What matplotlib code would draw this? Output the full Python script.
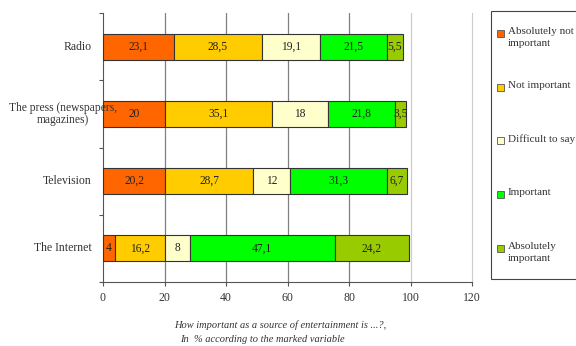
import matplotlib
matplotlib.use("Agg")
import matplotlib.pyplot as plt
from matplotlib.patches import Rectangle
from matplotlib.transforms import ScaledTranslation

plt.rcParams['font.family'] = ['Liberation Serif', 'DejaVu Serif']

media = ["Radio", "The press (newspapers,\nmagazines)", "Television", "The Internet"]
answers = ["Absolutely not\nimportant", "Not important", "Difficult to say",
           "Important", "Absolutely\nimportant"]
abs_not_important = [23.1, 20.0, 20.2, 4.0]
not_important = [28.5, 35.1, 28.7, 16.2]
difficult = [19.1, 18.0, 12.0, 8.0]
important = [21.5, 21.8, 31.3, 47.1]
abs_important = [5.5, 3.5, 6.7, 24.2]
series = [abs_not_important, not_important, difficult, important, abs_important]
colors = ["#FF6600", "#FFCC00", "#FFFFCC", "#00FF00", "#99CC00"]
xticks = [0, 20, 40, 60, 80, 100, 120]
xlabel_lines = ["How important as a source of entertainment is ...?,",
                "In  % according to the marked variable"]

W, H = 576, 346
fig = plt.figure(figsize=(W / 100, H / 100), dpi=100)
ax = fig.add_axes([103 / W, 1 - 282 / H, (472 - 103) / W, (282 - 13) / H])

ypos = list(range(len(media)))[::-1]
left = [0.0] * len(media)
for vals, col in zip(series, colors):
    ax.barh(ypos, vals, left=left, height=0.39, color=col,
            edgecolor="#333333", linewidth=0.8, zorder=3)
    for y, l, v in zip(ypos, left, vals):
        txt = f"{v:g}".replace(".", ",")
        ax.text(l + v / 2, y, txt, ha="center", va="center",
                fontsize=8.3, color="#222222", zorder=4)
    left = [a + b for a, b in zip(left, vals)]

ax.set_xlim(0, 120)
ax.set_ylim(-0.5, len(media) - 0.5)
ax.set_xticks(xticks)
ax.set_xticklabels([str(t) for t in xticks], fontsize=8.5, color="#333333")
for t in xticks[1:-1]:
    ax.axvline(t, color="#808080" if t < 100 else "#cccccc",
               linewidth=0.9, zorder=1)

ax.set_yticks([y + 0.5 for y in range(-1, len(media))])
ax.set_yticklabels([])
ax.tick_params(axis="y", length=3, color="#555555", direction="out")
ax.tick_params(axis="x", length=3, color="#555555", pad=4)

for y, name in zip(ypos, media):
    if "\n" in name:
        ax.text(0, y, name, transform=ax.get_yaxis_transform()
                + ScaledTranslation(-40 / 100, 0, fig.dpi_scale_trans),
                ha="center", va="center", fontsize=8.3, color="#333333",
                linespacing=1.05, zorder=5)
    else:
        ax.text(0, y, name, transform=ax.get_yaxis_transform()
                + ScaledTranslation(-11 / 100, 0, fig.dpi_scale_trans),
                ha="right", va="center", fontsize=8.5, color="#333333")

ax.spines["top"].set_visible(False)
ax.spines["right"].set_color("#cccccc")
ax.spines["left"].set_color("#555555")
ax.spines["bottom"].set_color("#555555")

fig.text(280 / W, 1 - 325 / H, xlabel_lines[0], ha="center", va="center",
         fontsize=7.5, style="italic", color="#333333")
fig.text(262 / W, 1 - 340 / H, xlabel_lines[1], ha="center", va="center",
         fontsize=7.5, style="italic", color="#333333")

# legend box
fig.patches.append(Rectangle((491 / W, 1 - 279 / H), 0.2, (279 - 11) / H,
                             transform=fig.transFigure, facecolor="white",
                             edgecolor="#444444", linewidth=0.8))
entry_y = [33, 87, 140, 194, 248]
for yy, lab, col in zip(entry_y, answers, colors):
    fig.patches.append(Rectangle((497 / W, 1 - (yy + 3.5) / H), 7 / W, 7 / H,
                                 transform=fig.transFigure, facecolor=col,
                                 edgecolor="#555555", linewidth=0.6))
    fig.text(508 / W, 1 - (yy - 6) / H, lab, ha="left", va="top",
             fontsize=8, color="#333333", linespacing=1.45)

fig.savefig("out.png", dpi=100)
